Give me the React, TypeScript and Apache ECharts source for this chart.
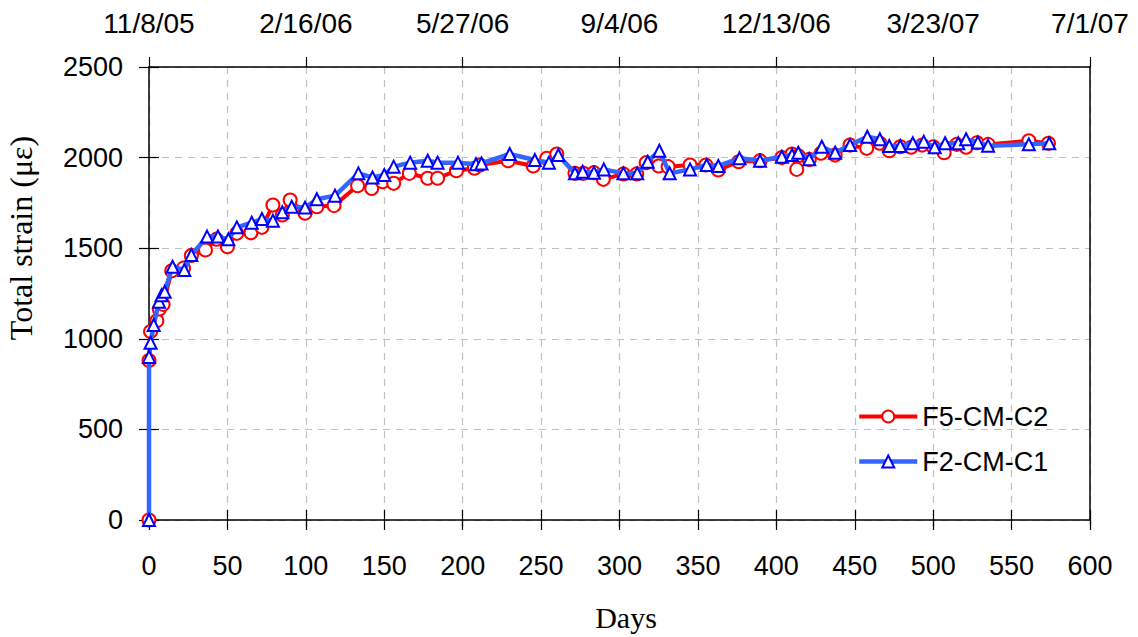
import React, { useEffect, useRef } from "react";
import * as echarts from "echarts";

// ---- Data ----
const f5Days = [0, 0, 1, 5, 6.6, 9, 14.5, 22, 27, 36, 43, 50, 56, 65, 72, 79, 85, 90, 99.5, 107, 118, 133, 142, 149, 156, 166, 177.7, 184, 196, 207.5, 211, 229, 245, 253.6, 260, 271.6, 277, 283.7, 289.7, 302.5, 311, 317, 325, 331, 345, 355, 363, 376, 389.6, 403.5, 410, 413, 414, 421, 428.5, 437.5, 447, 457.6, 466, 472, 479, 486, 493, 500, 507, 515, 521, 528, 535, 561, 573.5];
const f5Strain = [0, 880, 1040, 1100, 1165, 1190, 1375, 1390, 1460, 1490, 1550, 1508, 1582, 1585, 1615, 1738, 1683, 1766, 1693, 1729, 1735, 1845, 1830, 1867, 1858, 1913, 1886, 1886, 1928, 1941, 1959, 1983, 1954, 1996, 2020, 1913, 1913, 1917, 1880, 1910, 1910, 1972, 1954, 1950, 1959, 1959, 1932, 1977, 1983, 2000, 2020, 1935, 2010, 1990, 2024, 2014, 2069, 2051, 2079, 2038, 2060, 2057, 2069, 2060, 2027, 2073, 2057, 2082, 2073, 2093, 2079];

const f2Days = [0, 0, 1, 3, 6.4, 8, 10, 15, 22.5, 27, 37, 44, 50.6, 56, 65.5, 72, 79, 85, 91, 99.5, 107, 118.6, 133.5, 142.5, 150, 156, 166.5, 177.7, 184, 197, 208.5, 212, 230, 246, 255, 261, 271.6, 276.5, 283.7, 290, 302.5, 311.3, 318, 325.4, 332, 345, 355.6, 363, 376.5, 389.6, 403.5, 410, 414, 421, 429, 437.5, 447, 458, 466, 472, 479, 487, 494, 501, 507.6, 516, 521, 528.5, 535, 561, 574];
const f2Strain = [0, 900, 978, 1076, 1205, 1240, 1260, 1398, 1380, 1462, 1564, 1564, 1549, 1615, 1641, 1661, 1652, 1698, 1729, 1724, 1770, 1790, 1913, 1890, 1904, 1950, 1972, 1983, 1972, 1972, 1963, 1968, 2020, 1987, 1972, 2014, 1913, 1922, 1917, 1935, 1913, 1913, 1977, 2038, 1913, 1935, 1959, 1954, 1996, 1983, 2005, 2014, 2027, 1991, 2060, 2027, 2069, 2115, 2101, 2064, 2064, 2079, 2088, 2057, 2079, 2079, 2101, 2084, 2066, 2073, 2079];

const topDateLabels = ["11/8/05", "2/16/06", "5/27/06", "9/4/06", "12/13/06", "3/23/07", "7/1/07"];
const seriesNames = ["F5-CM-C2", "F2-CM-C1"];

const SANS = "'Liberation Sans', Arial, sans-serif";
const SERIF = "'Liberation Serif', 'Times New Roman', serif";

export default function App() {
  const ref = useRef<HTMLDivElement>(null);
  useEffect(() => {
    if (!ref.current) return;
    const chart = echarts.init(ref.current, undefined, { renderer: "svg" });
    const zip = (xs: number[], ys: number[]) => xs.map((x, i) => [x, ys[i]]);
    const hiddenX = (position: string, interval: number, len: number) => ({
      type: "value", position, min: 0, max: 600, interval,
      axisLine: { show: false }, axisLabel: { show: false }, splitLine: { show: false },
      axisTick: { show: true, inside: true, length: len, lineStyle: { color: "#000", width: 1.2 } },
    });
    chart.setOption({
      animation: false,
      backgroundColor: "#fff",
      grid: { left: 149, right: 48, top: 67, bottom: 117, containLabel: false, outerBoundsMode: "none" },
      legend: {
        orient: "vertical", left: 852, top: 398, itemWidth: 58, itemHeight: 15, itemGap: 18,
        data: seriesNames,
        lineStyle: { width: "inherit" },
        textStyle: { fontFamily: SANS, fontSize: 27, color: "#000" },
      },
      xAxis: [
        {
          type: "value", position: "bottom", min: 0, max: 600, interval: 50,
          axisLine: { onZero: false, lineStyle: { color: "#000", width: 1.5 } },
          axisTick: { show: true, length: 10, lineStyle: { color: "#000", width: 1.2 } },
          axisLabel: { fontFamily: SANS, fontSize: 27, color: "#000", margin: 32 },
          splitLine: { show: true, lineStyle: { color: "#c0c0c0", type: [7, 6], width: 1.2 } },
        },
        {
          type: "value", position: "top", min: 0, max: 600, interval: 100,
          axisLine: { onZero: false, lineStyle: { color: "#000", width: 1.5 } },
          axisTick: { show: true, length: 10, lineStyle: { color: "#000", width: 1.2 } },
          axisLabel: {
            fontFamily: SANS, fontSize: 28, color: "#000", margin: 30,
            formatter: (v: number) => topDateLabels[Math.round(v / 100)] ?? "",
          },
          splitLine: { show: false },
        },
        hiddenX("bottom", 50, 10),
        hiddenX("top", 100, 6),
      ],
      yAxis: [
        {
          type: "value", position: "left", min: 0, max: 2500, interval: 500,
          axisLine: { onZero: false, lineStyle: { color: "#000", width: 1.5 } },
          axisTick: { show: true, length: 10, lineStyle: { color: "#000", width: 1.2 } },
          axisLabel: { fontFamily: SANS, fontSize: 27, color: "#000", margin: 26, formatter: (v: number) => String(v) },
          splitLine: { show: true, lineStyle: { color: "#c0c0c0", type: [7, 6], width: 1.2 } },
        },
        {
          type: "value", position: "left", min: 0, max: 2500, interval: 500,
          axisLine: { show: false }, axisLabel: { show: false }, splitLine: { show: false },
          axisTick: { show: true, inside: true, length: 10, lineStyle: { color: "#000", width: 1.2 } },
        },
        {
          type: "value", position: "right", min: 0, max: 2500, interval: 500,
          axisLine: { show: true, onZero: false, lineStyle: { color: "#000", width: 1.5 } },
          axisTick: { show: false }, axisLabel: { show: false }, splitLine: { show: false },
        },
      ],
      graphic: [
        {
          type: "text", x: 21, y: 238, rotation: Math.PI / 2,
          style: { text: "Total strain (με)", font: `32px ${SERIF}`, fill: "#000", align: "center", verticalAlign: "middle" },
        },
        {
          type: "text", x: 626, y: 617,
          style: { text: "Days", font: `30px ${SERIF}`, fill: "#000", align: "center", verticalAlign: "middle" },
        },
      ],
      series: [
        {
          name: seriesNames[0], type: "line", xAxisIndex: 0, yAxisIndex: 0,
          data: zip(f5Days, f5Strain),
          symbol: "circle", symbolSize: 13,
          itemStyle: { color: "#fff", borderColor: "#ff0000", borderWidth: 2 },
          lineStyle: { color: "#ff0000", width: 4 },
          z: 2,
        },
        {
          name: seriesNames[1], type: "line", xAxisIndex: 0, yAxisIndex: 0,
          data: zip(f2Days, f2Strain),
          symbol: "triangle", symbolSize: 12,
          itemStyle: { color: "#fff", borderColor: "#0000ff", borderWidth: 2 },
          lineStyle: { color: "#3366ff", width: 4.5 },
          z: 3,
        },
      ],
    });
    return () => chart.dispose();
  }, []);
  return <div ref={ref} style={{ position: "fixed", left: 0, top: 0, width: 1138, height: 637 }} />;
}
